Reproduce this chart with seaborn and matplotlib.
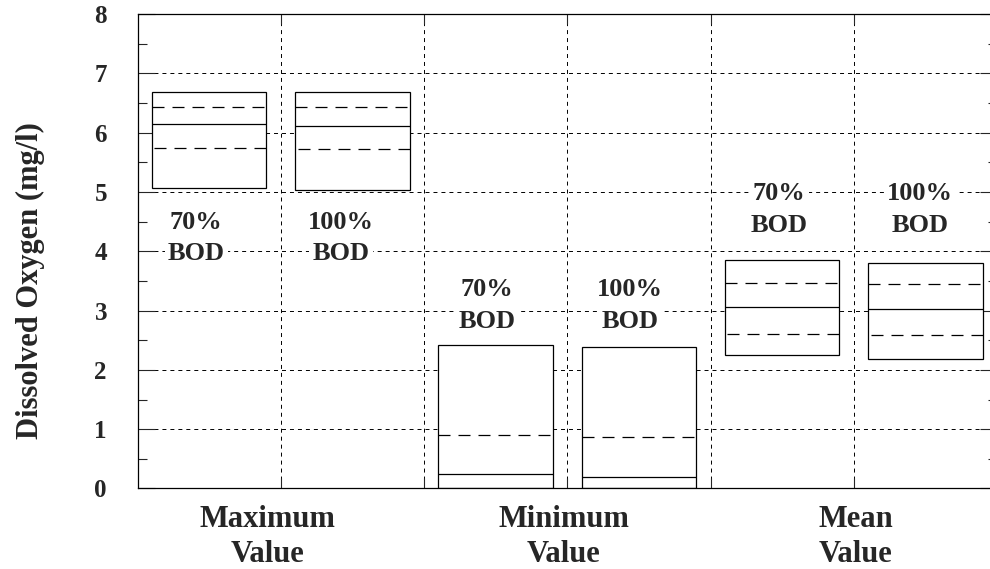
import numpy as np
import pandas as pd
import matplotlib
matplotlib.use("Agg")
import matplotlib.pyplot as plt
from matplotlib.ticker import MultipleLocator
import seaborn as sns

# Dissolved oxygen summary (mg/l) under two BOD loading scenarios
groups = ["Maximum", "Minimum", "Mean"]
group_suffix = "Value"
treatments = ["70%", "100%"]
treatment_suffix = "BOD"

box_low = [5.06, 5.04, 0.00, 0.00, 2.25, 2.19]
box_high = [6.68, 6.68, 2.42, 2.38, 3.85, 3.81]
median_line = [6.14, 6.12, 0.24, 0.20, 3.06, 3.02]
upper_dash = [6.43, 6.43, 0.90, 0.87, 3.47, 3.44]
lower_dash = [5.74, 5.72, np.nan, np.nan, 2.61, 2.58]
y_ticks = [0, 1, 2, 3, 4, 5, 6, 7, 8]

# label placement
treat_label_base = [4.38, 3.24, 4.86]          # first-line baseline, data units
treat_line_gap = 0.53                           # baseline-to-baseline, data units
treat_label_dx = [[-0.09, -0.08], [-0.06, -0.06], [-0.02, -0.04]]
group_label_dx = [-0.096, -0.024, 0.014]
group_label_base = [-0.0811, -0.1549]           # axes fraction, two lines

sns.set_style("white")
plt.rcParams["font.family"] = ["Liberation Serif", "DejaVu Serif"]
plt.rcParams["font.weight"] = "bold"

conditions = [f"{g} {t}" for g in groups for t in treatments]
df = pd.DataFrame({
    "condition": conditions,
    "low": box_low,
    "span": np.subtract(box_high, box_low),
})

fig = plt.figure(figsize=(9.9, 5.69), dpi=100)
ax = fig.add_axes([0.1389, 0.1415, 0.8682, 0.8339])

sns.barplot(data=df, x="condition", y="span", bottom=df["low"].to_numpy(),
            color="white", edgecolor="black", linewidth=0.9, width=0.8,
            errorbar=None, ax=ax, zorder=2)

dash_q3 = (0, (9.6, 6.4))
for i, p in enumerate(ax.patches[:len(conditions)]):
    x0 = p.get_x()
    x1 = x0 + p.get_width()
    ax.plot([x0, x1], [median_line[i]] * 2, color="black", lw=0.9,
            solid_capstyle="butt", zorder=3)
    ax.plot([x0, x1], [upper_dash[i]] * 2, color="black", lw=0.9,
            linestyle=dash_q3, zorder=3)
    if not np.isnan(lower_dash[i]):
        ax.plot([x1, x0], [lower_dash[i]] * 2, color="black", lw=0.9,
                linestyle=(0, (9.6, 6.4)), zorder=3)

# treatment labels next to each box
for gi in range(len(groups)):
    for ti, t in enumerate(treatments):
        p = ax.patches[gi * len(treatments) + ti]
        xc = p.get_x() + p.get_width() / 2 + treat_label_dx[gi][ti]
        for li, line in enumerate([t, treatment_suffix]):
            ax.text(xc, treat_label_base[gi] - li * treat_line_gap, line,
                    ha="center", va="baseline", fontsize=19, fontweight="bold",
                    zorder=4,
                    bbox=dict(boxstyle="square,pad=0.12", fc="white", ec="none"))

# axes, ticks, grid
n = len(conditions)
ax.set_xlim(-0.5, n - 0.5)
ax.set_ylim(y_ticks[0], y_ticks[-1])
ax.set_xticks(np.arange(n - 1) + 0.5)
ax.set_xticklabels([])
ax.set_yticks(y_ticks)
ax.set_yticklabels([str(v) for v in y_ticks])
ax.yaxis.set_minor_locator(MultipleLocator(0.5))
ax.set_xlabel("")

ax.tick_params(axis="x", which="major", direction="in", length=7, width=0.8,
               top=True, bottom=True, labelbottom=False)
ax.tick_params(axis="y", which="major", direction="in", length=12.5, width=0.8,
               left=True, right=True, labelsize=18, pad=22)
ax.tick_params(axis="y", which="minor", direction="in", length=6.5, width=0.8,
               left=True, right=True)
for lab in ax.get_yticklabels():
    lab.set_fontweight("bold")

ax.set_axisbelow(True)
ax.grid(True, which="major", axis="both", color="black", lw=0.7,
        linestyle=(0, (4.1, 4.1)))
for s in ax.spines.values():
    s.set_visible(True)
    s.set_color("black")
    s.set_linewidth(0.9)

# group names under the axis
xform = ax.get_xaxis_transform()
for gi, g in enumerate(groups):
    xc = gi * len(treatments) + (len(treatments) - 1) / 2 + group_label_dx[gi]
    for li, line in enumerate([g, group_suffix]):
        ax.text(xc, group_label_base[li], line, transform=xform,
                ha="center", va="baseline", fontsize=22, fontweight="bold")

ax.set_ylabel("Dissolved Oxygen (mg/l)", fontsize=22, fontweight="bold")
ax.yaxis.set_label_coords(-0.1076, 0.439)

fig.savefig("out.png", dpi=100)
